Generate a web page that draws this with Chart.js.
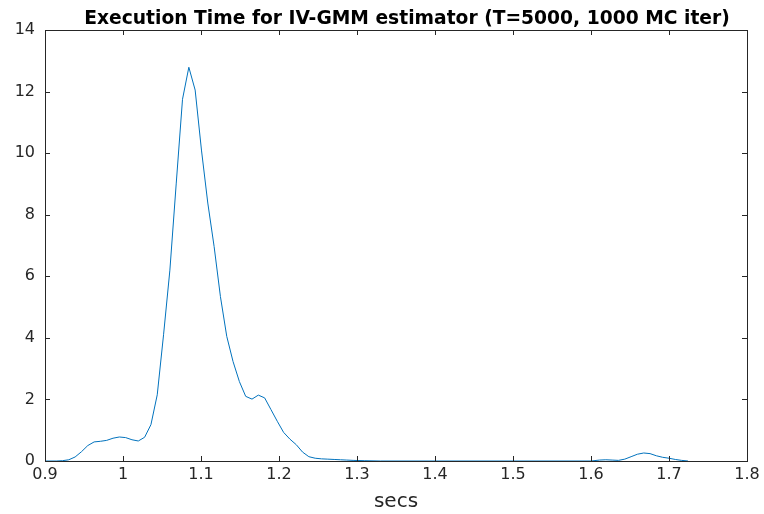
<!DOCTYPE html>
<html>
<head>
<meta charset="utf-8">
<script src="https://cdn.jsdelivr.net/npm/chart.js@4/dist/chart.umd.min.js"></script>
<style>
  html, body { margin: 0; padding: 0; background: #fff; }
  #wrap { width: 764px; height: 514px; position: relative; }
</style>
</head>
<body>
<div id="wrap"><canvas id="chart"></canvas></div>
<script>
const secs = [
  0.900, 0.9143, 0.9224, 0.9305, 0.9386, 0.9467, 0.9548, 0.9630, 0.9710, 0.9791,
  0.9872, 0.9953, 1.0034, 1.0115, 1.0196, 1.0277, 1.0358, 1.0439, 1.0520, 1.0601,
  1.0682, 1.0763, 1.0844, 1.0925, 1.1006, 1.1087, 1.1168, 1.1249, 1.1330, 1.1411,
  1.1492, 1.1573, 1.1654, 1.1735, 1.1816, 1.1897, 1.1978, 1.2059, 1.2140, 1.2221,
  1.2302, 1.2383, 1.2464, 1.2545, 1.2626, 1.2707, 1.2788, 1.2869, 1.2950, 1.3100,
  1.3300, 1.6000, 1.6109, 1.6190, 1.6271, 1.6352, 1.6433, 1.6514, 1.6595, 1.6676,
  1.6757, 1.6838, 1.6919, 1.7000, 1.7081, 1.7162, 1.7243
];
const density = [
  0.00, 0.00, 0.01, 0.04, 0.13, 0.30, 0.50, 0.62, 0.64, 0.67,
  0.74, 0.78, 0.76, 0.69, 0.65, 0.77, 1.18, 2.15, 4.10, 6.20,
  9.00, 11.75, 12.79, 12.05, 10.10, 8.38, 6.97, 5.34, 4.05, 3.23,
  2.58, 2.10, 2.01, 2.14, 2.05, 1.67, 1.29, 0.93, 0.71, 0.53,
  0.29, 0.14, 0.09, 0.07, 0.06, 0.05, 0.04, 0.03, 0.02, 0.01,
  0.00, 0.00, 0.03, 0.04, 0.03, 0.02, 0.06, 0.14, 0.22, 0.26,
  0.24, 0.17, 0.12, 0.09, 0.05, 0.02, 0.00
];
const xRange = [0.9, 1.8];
const yRange = [0, 14];
const titleText = "Execution Time for IV-GMM estimator (T=5000, 1000 MC iter)";
const xLabel = "secs";

const axisColor = "#262626";
const fontFamily = "'DejaVu Sans', 'Liberation Sans', sans-serif";

// box round the plot area, inward tick marks on all four sides, and the title
const matlabBox = {
  id: "matlabBox",
  afterDatasetsDraw(chart) {
    const {ctx, chartArea: a, scales: {x, y}} = chart;
    const len = 5;
    ctx.save();
    ctx.strokeStyle = axisColor;
    ctx.lineWidth = 1;
    ctx.beginPath();
    x.ticks.forEach(t => {
      const px = Math.round(x.getPixelForValue(t.value)) + 0.5;
      ctx.moveTo(px, a.bottom); ctx.lineTo(px, a.bottom - len);
      ctx.moveTo(px, a.top); ctx.lineTo(px, a.top + len);
    });
    y.ticks.forEach(t => {
      const py = Math.round(y.getPixelForValue(t.value)) + 0.5;
      ctx.moveTo(a.left, py); ctx.lineTo(a.left + len, py);
      ctx.moveTo(a.right, py); ctx.lineTo(a.right - len, py);
    });
    ctx.stroke();
    ctx.strokeRect(Math.round(a.left) + 0.5, Math.round(a.top) + 0.5,
      Math.round(a.right - a.left), Math.round(a.bottom - a.top));

    // title sits a little right of the axes centre, as in the figure
    ctx.fillStyle = "#000";
    ctx.font = "bold 18.7px " + fontFamily;
    ctx.textAlign = "center";
    ctx.textBaseline = "alphabetic";
    ctx.fillText(titleText, (a.left + a.right) / 2 + 11, a.top - 6);
    ctx.restore();
  }
};

new Chart(document.getElementById("chart"), {
  type: "scatter",
  data: {
    datasets: [{
      data: secs.map((s, i) => ({x: s, y: density[i]})),
      showLine: true,
      borderColor: "#0072BD",
      borderWidth: 1,
      pointRadius: 0,
      tension: 0,
      fill: false
    }]
  },
  options: {
    responsive: true,
    maintainAspectRatio: false,
    animation: false,
    layout: { padding: { left: 0, right: 17, top: 30, bottom: 0 } },
    scales: {
      x: {
        type: "linear",
        min: xRange[0],
        max: xRange[1],
        ticks: {
          stepSize: 0.1,
          color: axisColor,
          padding: 4,
          font: { family: fontFamily, size: 16 },
          callback: v => Math.round(v * 10) / 10
        },
        grid: { display: false, drawTicks: false },
        border: { display: false },
        title: {
          display: true,
          text: xLabel,
          color: axisColor,
          font: { family: fontFamily, size: 20 },
          padding: { top: 3, bottom: 0 }
        },
        afterFit: s => { s.height = 53; }
      },
      y: {
        min: yRange[0],
        max: yRange[1],
        ticks: {
          stepSize: 2,
          color: axisColor,
          padding: 10,
          font: { family: fontFamily, size: 16 }
        },
        grid: { display: false, drawTicks: false },
        border: { display: false },
        afterFit: s => { s.width = 45; }
      }
    },
    plugins: {
      legend: { display: false },
      tooltip: { enabled: false },
      title: { display: false }
    }
  },
  plugins: [matlabBox]
});
</script>
</body>
</html>
